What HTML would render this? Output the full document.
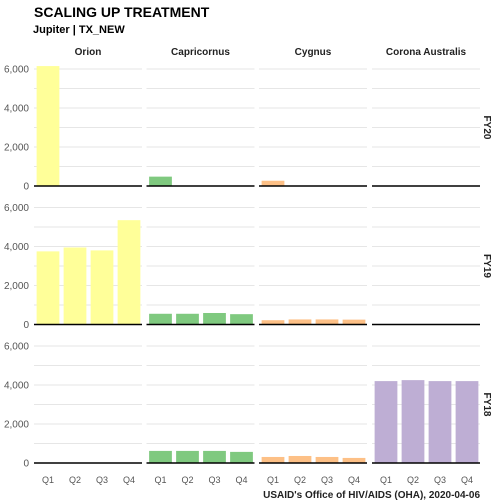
<!DOCTYPE html>
<html><head><meta charset="utf-8"><style>
body{margin:0;background:#fff;}
svg{display:block;font-family:"Liberation Sans",sans-serif;}
</style></head><body>
<svg id="c" width="504" height="504">
<text x="34" y="17" font-size="14" font-weight="bold" fill="#000">SCALING UP TREATMENT</text>
<text x="33" y="33" font-size="11" font-weight="bold" fill="#000">Jupiter | TX_NEW</text>
<text x="480" y="498" font-size="10" font-weight="bold" fill="#222" text-anchor="end">USAID's Office of HIV/AIDS (OHA), 2020-04-06</text>
</svg>
<script>
const partners = ["Orion","Capricornus","Cygnus","Corona Australis"];
const years = ["FY20","FY19","FY18"];
const quarters = ["Q1","Q2","Q3","Q4"];
const colors = ["#ffff99","#7fc97f","#fdc086","#beaed4"];
const yTicks = [0,2000,4000,6000];
const yTickLabels = ["0","2,000","4,000","6,000"];
const fy20Orion = [6150,0,0,0];
const fy20Capricornus = [480,0,0,0];
const fy20Cygnus = [270,0,0,0];
const fy20Corona = [0,0,0,0];
const fy19Orion = [3750,3950,3800,5350];
const fy19Capricornus = [550,550,590,530];
const fy19Cygnus = [220,260,260,250];
const fy19Corona = [0,0,0,0];
const fy18Orion = [0,0,0,0];
const fy18Capricornus = [620,620,620,570];
const fy18Cygnus = [310,360,310,260];
const fy18Corona = [4200,4250,4200,4200];
const values = [
  [fy20Orion,fy20Capricornus,fy20Cygnus,fy20Corona],
  [fy19Orion,fy19Capricornus,fy19Cygnus,fy19Corona],
  [fy18Orion,fy18Capricornus,fy18Cygnus,fy18Corona]
];
const NS="http://www.w3.org/2000/svg";
const svg=document.getElementById('c');
const colX=[34,146.5,259,372], colW=108;
const rowBase=[186,324.5,463], rowTop=62;
const scale=117/6000;
function y(r,v){return rowBase[r]-v*scale;}
function mk(tag,attrs,parent){const e=document.createElementNS(NS,tag);for(const k in attrs)e.setAttribute(k,attrs[k]);(parent||svg).appendChild(e);return e;}
// strips
partners.forEach((p,c)=>{
  const t=mk('text',{x:colX[c]+colW/2,y:55,'font-size':10,'font-weight':'bold','text-anchor':'middle',fill:'#222'});
  
  
  t.textContent=p;
});
years.forEach((yr,r)=>{
  const cy=(rowBase[r]+y(r,6000))/2;
  const t=mk('text',{x:484,y:cy,'font-size':10,'font-weight':'bold',fill:'#222','text-anchor':'middle',transform:`rotate(90 484 ${cy})`});
  
  
  t.textContent=yr;
  // y tick labels
  yTicks.forEach((v,i)=>{
    const l=mk('text',{x:29,y:y(r,v)+3.5,'font-size':10,fill:'#555','text-anchor':'end'});
    
    
    l.textContent=yTickLabels[i];
  });
  partners.forEach((p,c)=>{
    for(let g=1000;g<=6000;g+=1000){
      const gl=mk('line',{x1:colX[c],x2:colX[c]+colW,y1:y(r,g),y2:y(r,g),stroke:'#e6e6e6','stroke-width':1});
      
      
    }
    const band=colW/4;
    values[r][c].forEach((v,q)=>{
      if(v<=0)return;
      const b=mk('rect',{x:colX[c]+q*band+band*0.06+1,y:y(r,v),width:band*0.88-1,height:v*scale,fill:colors[c]});
      
      
    });
    const ax=mk('line',{x1:colX[c],x2:colX[c]+colW,y1:rowBase[r],y2:rowBase[r],stroke:'#000','stroke-width':1.5});
    
    
    if(r===2){
      quarters.forEach((qq,q)=>{
        const t=mk('text',{x:colX[c]+q*band+band/2+0.5,y:483,'font-size':9,fill:'#555','text-anchor':'middle'});
        
        
        t.textContent=qq;
      });
    }
  });
});
</script>
</body></html>
